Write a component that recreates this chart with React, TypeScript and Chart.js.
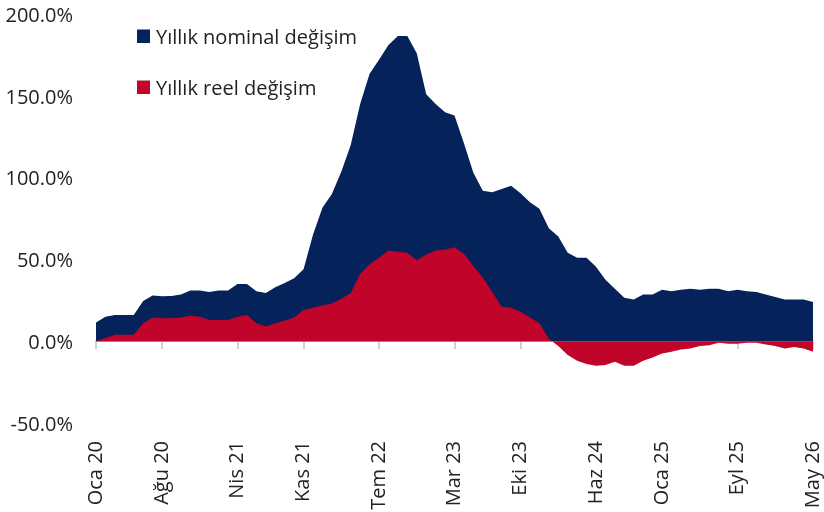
import React, { useEffect, useRef } from 'react';
import { Chart, registerables } from 'chart.js';

Chart.register(...registerables);

// Monthly categories: Oca 20 .. May 26
const monthNames = ['Oca', 'Şub', 'Mar', 'Nis', 'May', 'Haz', 'Tem', 'Ağu', 'Eyl', 'Eki', 'Kas', 'Ara'];
const years = ['20', '21', '22', '23', '24', '25', '26'];
const categories: string[] = years.flatMap((y) => monthNames.map((m) => `${m} ${y}`)).slice(0, 77);

// Labelled months on the horizontal axis
const tickLabels = ['Oca 20', 'Ağu 20', 'Nis 21', 'Kas 21', 'Tem 22', 'Mar 23', 'Eki 23', 'Haz 24', 'Oca 25', 'Eyl 25', 'May 26'];

// Vertical axis ticks
const yTicks = [-50, 0, 50, 100, 150, 200];

// Yıllık nominal değişim (%)
const nominal = [
  11.5, 15, 16, 16, 16, 24.5, 28, 27.5, 27.7, 28.5, 31, 31,
  30, 31, 31, 35, 35, 30.5, 29.5, 33, 35.5, 38.5, 44, 65,
  81.5, 90, 103.5, 120, 145, 163.5, 172, 181, 186.5, 186.5, 176, 151,
  145, 140, 138, 121, 103, 92, 91, 93, 95, 90.5, 85, 81,
  69, 64, 54, 51, 51, 45.5, 37.5, 32, 26.5, 25.5, 28.5, 28.5,
  31.5, 30.5, 31.5, 32, 31.5, 32, 32, 30.5, 31.5, 30.5, 30, 28.5,
  27, 25.5, 25.5, 25.5, 24,
];

// Yıllık reel değişim (%)
const reel = [
  0, 2, 4, 4, 4, 11, 14.5, 14, 14, 14.5, 15.5, 15,
  13, 13, 13, 15, 16, 11, 9, 11, 12.5, 14.5, 19, 20.5,
  22, 23, 26, 29.5, 41, 47, 51, 55.5, 54.7, 54, 49.5, 53,
  55.5, 56, 57.5, 53.5, 46, 39, 30, 21, 20.5, 18, 14.5, 11,
  1.5, -3, -8.5, -12, -14, -15, -14.5, -12.5, -15, -15, -12, -10,
  -7.5, -6.5, -5, -4.5, -3, -2.5, -1, -1.5, -1.5, -1, -1, -2,
  -3, -4.5, -3.5, -4.5, -6.5,
];

const NAVY = '#05225a';
const RED = '#c1042a';
const TEXT = '#222222';
const AXIS = '#d0d0d0';
const FONT = '"Open Sans", "Noto Sans", sans-serif';

const tickIndices = tickLabels.map((l) => categories.indexOf(l));

const legendPlugin = {
  id: 'insideLegend',
  afterDraw(chart: any) {
    const ctx = chart.ctx;
    ctx.save();
    ctx.font = `20px ${FONT}`;
    ctx.textBaseline = 'alphabetic';
    ctx.textAlign = 'left';
    const baselines = [43.5, 94.5];
    chart.data.datasets.forEach((ds: any, i: number) => {
      const b = baselines[i];
      ctx.fillStyle = ds.backgroundColor;
      ctx.fillRect(137, b - 14, 13, 13.5);
      ctx.fillStyle = TEXT;
      ctx.fillText(ds.label, 156, b);
    });
    ctx.restore();
  },
};

export default function App() {
  const ref = useRef<HTMLCanvasElement | null>(null);

  useEffect(() => {
    document.body.style.margin = '0';
    if (!ref.current) return;
    const setTicks = (scale: any) => {
      scale.ticks = tickIndices.map((v) => ({ value: v }));
    };
    const chart = new Chart(ref.current, {
      type: 'line',
      data: {
        labels: categories,
        datasets: [
          {
            label: 'Yıllık nominal değişim',
            data: nominal,
            backgroundColor: NAVY,
            borderColor: 'rgba(0,0,0,0)',
            borderWidth: 0,
            pointRadius: 0,
            fill: 'origin',
            tension: 0,
            order: 2,
          },
          {
            label: 'Yıllık reel değişim',
            data: reel,
            backgroundColor: RED,
            borderColor: 'rgba(0,0,0,0)',
            borderWidth: 0,
            pointRadius: 0,
            fill: 'origin',
            tension: 0,
            order: 1,
          },
        ],
      },
      options: {
        responsive: false,
        animation: false,
        devicePixelRatio: 1,
        layout: { padding: { top: 14, right: 11, bottom: 0, left: 0 } },
        plugins: {
          legend: { display: false },
          tooltip: { enabled: false },
        },
        scales: {
          x: {
            type: 'category',
            position: 'bottom',
            offset: false,
            afterBuildTicks: setTicks,
            afterFit: (s: any) => {
              s.height = 89;
              s.paddingLeft = 0;
              s.paddingRight = 0;
            },
            grid: { display: false, drawTicks: false, offset: false },
            border: { display: false },
            ticks: {
              autoSkip: false,
              minRotation: 90,
              maxRotation: 90,
              padding: 18,
              color: TEXT,
              font: { family: FONT, size: 20 },
            },
          },
          x2: {
            type: 'category',
            position: { y: 0 } as any,
            offset: false,
            afterBuildTicks: setTicks,
            afterFit: (s: any) => {
              s.paddingLeft = 0;
              s.paddingRight = 0;
            },
            grid: {
              display: true,
              drawOnChartArea: false,
              drawTicks: true,
              tickLength: 7,
              color: AXIS,
              lineWidth: 2,
              offset: false,
            },
            border: { display: true, color: AXIS, width: 2 },
            ticks: { display: false, autoSkip: false },
          },
          y: {
            type: 'linear',
            min: -50,
            max: 200,
            afterBuildTicks: (scale: any) => {
              scale.ticks = yTicks.map((v) => ({ value: v }));
            },
            afterFit: (s: any) => {
              s.width = 96;
              s.paddingTop = 0;
              s.paddingBottom = 0;
            },
            grid: { display: false, drawTicks: false },
            border: { display: false },
            ticks: {
              padding: 23,
              labelOffset: 2,
              color: TEXT,
              font: { family: FONT, size: 20 },
              callback: (v: any) => `${Number(v).toFixed(1)}%`,
            },
          },
        },
      },
      plugins: [legendPlugin],
    } as any);
    return () => chart.destroy();
  }, []);

  return (
    <div style={{ width: 824, height: 512, position: 'relative' }}>
      <canvas ref={ref} width={824} height={512} style={{ display: 'block' }} />
    </div>
  );
}
